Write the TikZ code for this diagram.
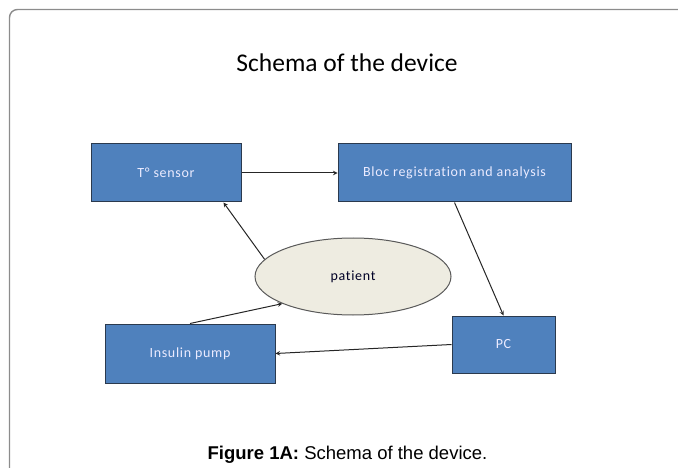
\documentclass[tikz,border=0pt]{standalone}
\usepackage{fontspec}
\setmainfont{Carlito}
\newfontfamily\arialfont{Liberation Sans}
\newfontfamily\boxfont[LetterSpace=5, Ligatures=NoCommon]{Carlito}
\usepackage{tikz}
\usetikzlibrary{shapes.geometric, arrows}
\definecolor{boxblue}{HTML}{4F81BD}
\definecolor{boxline}{HTML}{2B3A4E}
\definecolor{beige}{HTML}{EEECE1}
\tikzstyle{block} = [draw=boxline, line width=1pt, fill=boxblue, rectangle,
    inner sep=0pt, minimum height=58pt, text=white!92!blue,
    font=\boxfont\fontsize{14}{16}\selectfont]
\tikzstyle{oval} = [draw=black!65, line width=1pt, fill=beige, ellipse,
    inner sep=0pt, minimum width=196pt, minimum height=77pt,
    text=black!85!blue, font=\boxfont\fontsize{14}{16}\selectfont]
\tikzstyle{arrow} = [line width=1pt, draw=black!85, ->, >=stealth]

\begin{document}
\begin{tikzpicture}[x=1pt, y=-1pt]
\useasboundingbox (0,0) rectangle (678,468);

            % Frame
            \draw [black!45, line width=1.4pt, rounded corners=8pt]
                (9.5,468) -- (9.5,9.5) -- (678,9.5);
            \node (title) at (347,63) {\fontsize{25.5}{28}\selectfont Schema of the device};

            % Blocks
            \node (sensor) [block, minimum width=150pt] at (166,173) {T° sensor};
            \node (bloc) [block, minimum width=233pt] at (454.5,173) {Bloc registration and analysis};
            \node (patient) [oval] at (353,276.5) {patient};
            \node (pump) [block, minimum width=170pt, minimum height=59pt] at (190,353.5) {Insulin pump};
            \node (pc) [block, minimum width=103pt, minimum height=57pt] at (503.5,344.5) {PC};

            % Arrows
            \draw [arrow] (sensor) -- (bloc);
            \draw [arrow] (bloc.south) -- (pc.north);
            \draw [arrow] (pc.west) -- (pump.east);
            \draw [arrow] (pump.north) -- (patient.201);
            \draw [arrow] (patient.169) -- ([xshift=-18pt]sensor.south east);

            % Caption
            \node (caption) at (347.5,455) {\arialfont\fontsize{18.5}{21}\selectfont
                \textbf{Figure 1A:} Schema of the device.};

        \end{tikzpicture}
\end{document}
